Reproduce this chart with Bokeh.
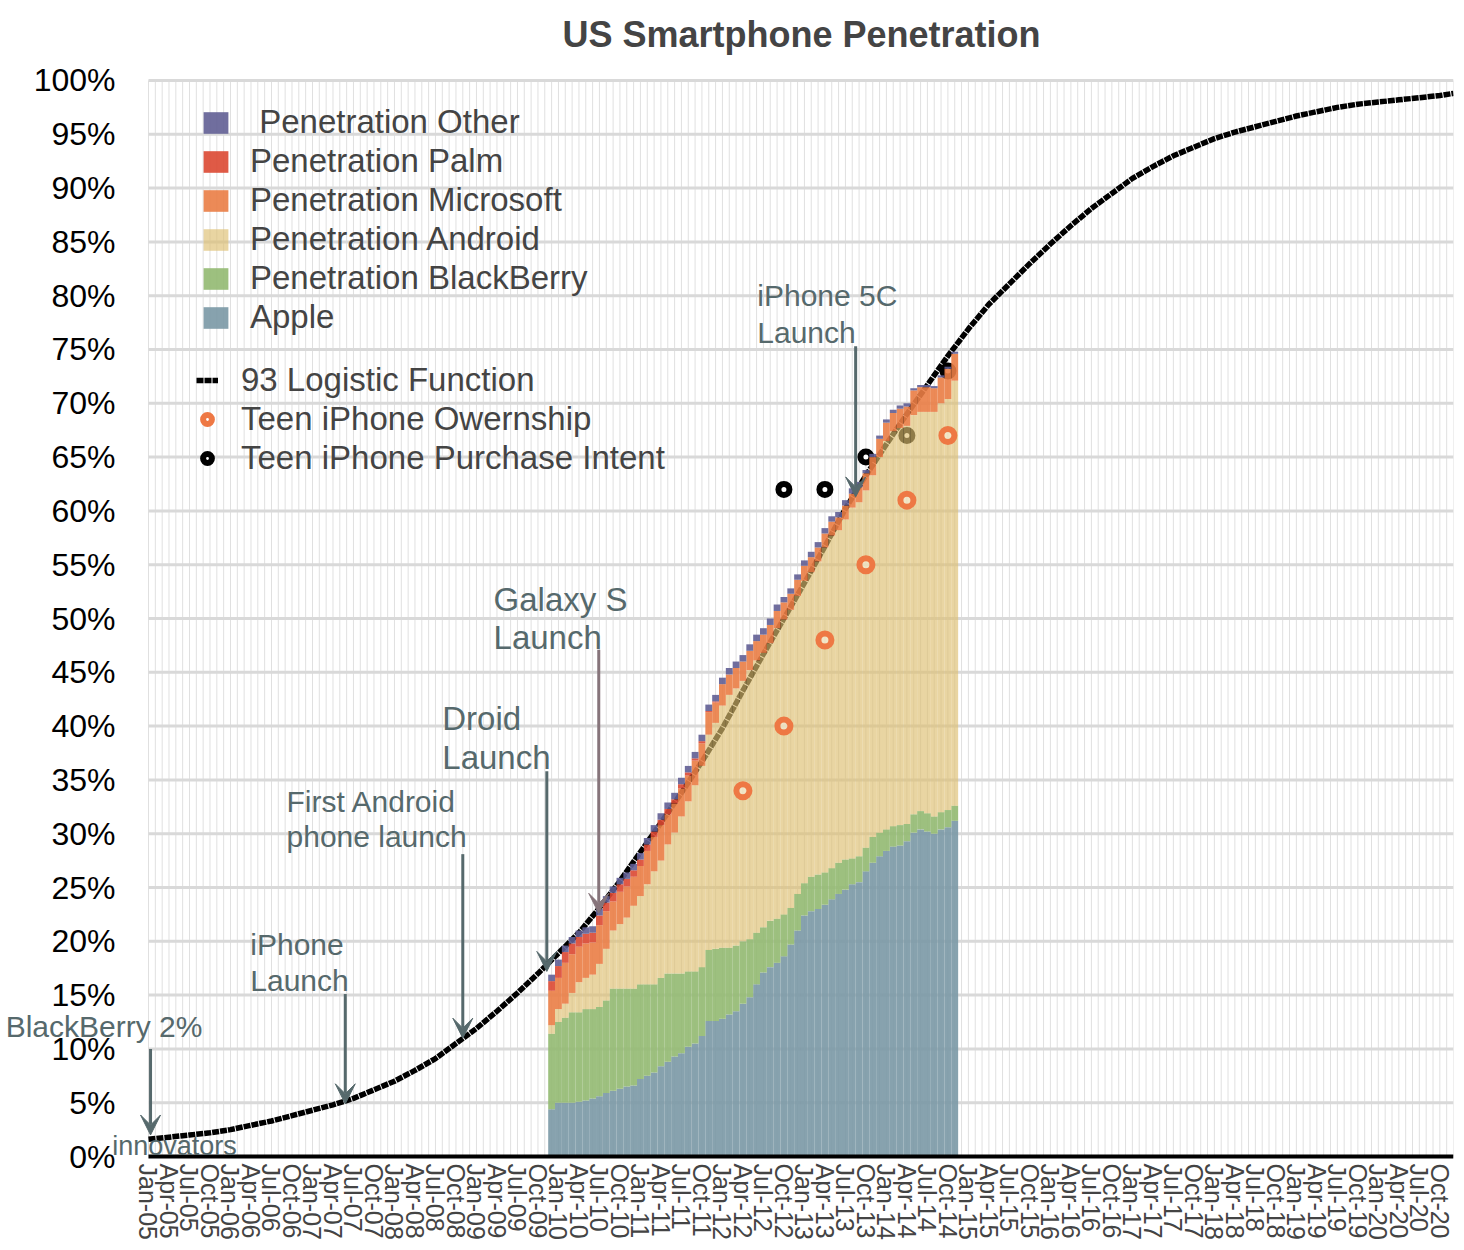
from math import pi
from bokeh.plotting import figure
from bokeh.models import Range1d, FixedTicker, Legend, LegendItem, Label, Arrow, VeeHead, ColumnDataSource
from bokeh.core.properties import value
from bokeh.embed import file_html
from bokeh.resources import INLINE

# month index 0 = Jan-05
quarters = ["Jan", "Apr", "Jul", "Oct"]
years = ["05", "06", "07", "08", "09", "10", "11", "12",
         "13", "14", "15", "16", "17", "18", "19", "20"]
tick_labels = [q + "-" + y for y in years for q in quarters]
tick_months = list(range(0, 3 * len(tick_labels), 3))
pct_ticks = list(range(0, 101, 5))
pct_labels = [str(v) + "%" for v in pct_ticks]

# stacked bars, Dec-09 .. Nov-14 (percent of US mobile subscribers)
bar_months = list(range(59, 119))
apple = [4.4, 5.0, 5.0, 5.0, 5.1, 5.2, 5.4, 5.6, 5.9, 6.1,
         6.3, 6.5, 6.6, 7.2, 7.5, 7.8, 8.4, 8.8, 9.3, 9.6,
         10.2, 10.5, 11.2, 12.6, 12.6, 12.8, 13.2, 13.5, 14.2, 14.8,
         16.0, 17.1, 17.6, 18.0, 18.6, 19.7, 21.0, 22.4, 22.8, 23.0,
         23.4, 23.9, 24.4, 24.8, 25.3, 25.5, 26.5, 27.3, 27.9, 28.4,
         28.8, 28.9, 29.3, 30.1, 30.4, 30.2, 30.0, 30.4, 30.6, 31.2]
blackberry = [7.0, 7.5, 7.9, 8.4, 8.3, 8.5, 8.3, 8.3, 8.6, 9.5,
              9.3, 9.1, 9.0, 8.8, 8.5, 8.2, 8.2, 8.2, 7.7, 7.4,
              7.0, 6.7, 6.4, 6.6, 6.7, 6.6, 6.2, 6.1, 5.8, 5.4,
              4.8, 4.2, 4.3, 4.1, 3.9, 3.4, 3.4, 3.0, 3.2, 3.2,
              3.0, 2.9, 2.9, 2.8, 2.4, 2.4, 2.2, 2.4, 2.2, 2.0,
              1.9, 1.9, 1.6, 1.7, 1.7, 1.7, 1.6, 1.6, 1.6, 1.4]
android = [0.8, 1.2, 1.3, 1.8, 2.8, 2.9, 3.2, 4.0, 4.8, 5.4,
           6.0, 6.6, 7.7, 8.2, 9.3, 10.5, 10.9, 12.0, 13.1, 14.6,
           15.8, 17.3, 18.7, 20.0, 21.0, 22.5, 23.5, 23.9, 24.2, 25.0,
           25.3, 25.5, 25.8, 27.0, 27.4, 27.7, 27.7, 28.1, 28.3, 29.1,
           30.2, 30.9, 30.9, 31.6, 32.6, 32.9, 33.2, 33.6, 34.9, 36.1,
           36.7, 36.9, 37.0, 37.1, 37.1, 37.3, 37.6, 38.0, 38.2, 39.5]
microsoft = [3.2, 2.9, 3.8, 3.6, 3.3, 3.2, 3.0, 3.6, 3.5, 2.7,
             3.0, 2.9, 2.7, 2.8, 3.1, 3.2, 3.3, 2.8, 2.7, 2.6,
             2.4, 2.3, 2.1, 2.1, 1.9, 2.0, 1.9, 1.9, 1.8, 1.8,
             1.8, 1.7, 1.7, 1.6, 1.6, 1.5, 1.5, 1.4, 1.4, 1.3,
             1.3, 1.3, 1.2, 1.3, 1.3, 1.4, 1.6, 1.7, 1.7, 1.7,
             1.7, 1.8, 1.8, 2.3, 2.3, 2.3, 2.2, 2.4, 2.8, 2.5]
palm = [0.9, 1.1, 1.0, 1.0, 0.9, 0.9, 0.9, 0.9, 0.8, 0.8,
        0.7, 0.7, 0.6, 0.6, 0.6, 0.5, 0.5, 0.5, 0.4, 0.4,
        0.3, 0.2, 0.2, 0.1, 0.1, 0.0, 0.0, 0.0, 0.0, 0.0,
        0.0, 0.0, 0.0, 0.0, 0.0, 0.0, 0.0, 0.0, 0.0, 0.0,
        0.0, 0.0, 0.0, 0.0, 0.0, 0.0, 0.0, 0.0, 0.0, 0.0,
        0.0, 0.0, 0.0, 0.0, 0.0, 0.0, 0.0, 0.0, 0.0, 0.0]
other = [0.6, 0.6, 0.6, 0.6, 0.6, 0.6, 0.6, 0.6, 0.6, 0.6,
         0.6, 0.6, 0.6, 0.6, 0.6, 0.6, 0.6, 0.6, 0.6, 0.6,
         0.6, 0.6, 0.6, 0.6, 0.6, 0.6, 0.6, 0.6, 0.6, 0.6,
         0.6, 0.6, 0.6, 0.6, 0.5, 0.5, 0.5, 0.5, 0.5, 0.5,
         0.5, 0.5, 0.5, 0.5, 0.5, 0.5, 0.3, 0.3, 0.3, 0.3,
         0.3, 0.3, 0.3, 0.2, 0.2, 0.2, 0.2, 0.2, 0.2, 0.2]

logistic_month = list(range(0, 190, 3)) + [191]
logistic_pct = [1.6, 1.8, 2.0, 2.2, 2.5, 2.9, 3.3, 3.8, 4.3, 4.8,
                5.4, 6.2, 7.0, 8.0, 9.1, 10.5, 11.9, 13.5, 15.2, 17.0,
                18.9, 20.8, 23.1, 25.6, 28.3, 31.0, 33.8, 36.7, 39.8, 43.3,
                46.7, 50.0, 53.3, 56.7, 60.2, 63.3, 66.2, 69.0, 71.7, 74.4,
                76.9, 79.2, 81.1, 83.0, 84.8, 86.5, 88.1, 89.5, 90.9, 92.0,
                93.0, 93.8, 94.6, 95.2, 95.7, 96.2, 96.7, 97.1, 97.5, 97.8,
                98.0, 98.2, 98.4, 98.6, 98.8]

own_month = [87, 93, 99, 105, 111, 117]
own_pct = [34, 40, 48, 55, 61, 67]
intent_month = [93, 99, 105, 111, 117]
intent_pct = [62, 62, 65, 67, 73]

FONT = "Liberation Sans"
ANN = "#56696c"
X_END = 191

# frame is a little larger than the data area so the notes and % labels are not clipped
p = figure(width=1456, height=1248, x_range=Range1d(-21.66, X_END), y_range=Range1d(-1.3, 101.3),
           output_backend="svg", toolbar_location=None, title="US Smartphone Penetration",
           y_axis_location=None,
           min_border_left=0, min_border_right=3, min_border_top=63, min_border_bottom=78)
p.outline_line_color = None
p.title.align = "left"
p.title.offset = 562
p.title.text_font = FONT
p.title.text_font_size = "36px"
p.title.text_font_style = "bold"
p.title.standoff = 23
p.xgrid.grid_line_color = None
p.ygrid.grid_line_color = None

# gridlines only over the data area
months_all = list(range(0, X_END + 1))
p.segment(x0=months_all, y0=[0] * len(months_all), x1=months_all, y1=[100] * len(months_all),
          line_color="#e0e0e0", line_width=1)
p.segment(x0=[0] * len(pct_ticks), y0=pct_ticks, x1=[X_END] * len(pct_ticks), y1=pct_ticks,
          line_color="#d9d9d9", line_width=3)
p.text(x=[-4.83] * len(pct_ticks), y=pct_ticks, text=pct_labels, text_align="right",
       text_baseline="middle", text_font=value(FONT), text_font_size="32px", text_color="black")

p.xaxis.ticker = FixedTicker(ticks=tick_months)
p.xaxis.major_label_overrides = dict(zip(tick_months, tick_labels))
p.xaxis.major_label_orientation = -pi / 2
p.xaxis.major_label_text_font = FONT
p.xaxis.major_label_text_font_size = "25px"
p.xaxis.major_label_standoff = -7
p.xaxis.axis_line_color = None
p.xaxis.major_tick_line_color = None
p.xaxis.minor_tick_line_color = None
p.xaxis.major_tick_out = 0
p.xaxis.major_tick_in = 0

line_r = p.line(logistic_month, logistic_pct, line_color="black", line_width=5.5, line_dash="7 1")
intent_r = p.scatter(intent_month, intent_pct, marker="circle", size=11, line_color="black",
                     line_width=6, fill_color="white")

src = ColumnDataSource(dict(month=bar_months, apple=apple, blackberry=blackberry, android=android,
                            microsoft=microsoft, palm=palm, other=other))
stack = ["apple", "blackberry", "android", "microsoft", "palm", "other"]
bars = p.vbar_stack(stack, x="month", width=1.0, source=src, line_color=None,
                    fill_color=["#7a98a5", "#92b971", "#ddbe70", "#ea7d45", "#db4832", "#605e94"],
                    fill_alpha=[0.9, 0.9, 0.65, 0.9, 0.9, 0.9])

own_r = p.scatter(own_month, own_pct, marker="circle", size=13, line_color="#ee7844",
                  line_width=6, fill_color="white", fill_alpha=0.4)

# x axis baseline
p.segment(x0=[0], y0=[0], x1=[X_END], y1=[0], line_color="black", line_width=4)

names = ["Apple", "Penetration BlackBerry", "Penetration Android", "Penetration Microsoft",
         "Penetration Palm", " Penetration Other"]
leg1 = Legend(items=[LegendItem(label=n, renderers=[r]) for n, r in reversed(list(zip(names, bars)))],
              location=(200, 834), padding=0, margin=0, spacing=1, glyph_width=31, glyph_height=27,
              label_height=22, label_standoff=19, label_text_font=FONT, label_text_font_size="33px",
              background_fill_alpha=0, border_line_color=None)
leg2 = Legend(items=[LegendItem(label="93 Logistic Function", renderers=[line_r]),
                     LegendItem(label="Teen iPhone Owernship", renderers=[own_r]),
                     LegendItem(label="Teen iPhone Purchase Intent", renderers=[intent_r])],
              location=(196, 693), padding=0, margin=0, spacing=1, glyph_width=22, glyph_height=22,
              label_height=22, label_standoff=23, label_text_font=FONT, label_text_font_size="33px",
              background_fill_alpha=0, border_line_color=None)
p.add_layout(leg1)
p.add_layout(leg2)

# annotations: (text, x, y, size)
notes = [("BlackBerry 2%", -20.9, 12.1, "30px"),
         ("innovators", -5.3, 1.0, "27px"),
         ("iPhone", 14.9, 19.7, "30px"), ("Launch", 14.9, 16.4, "30px"),
         ("First Android", 20.2, 33.0, "30px"), ("phone launch", 20.2, 29.7, "30px"),
         ("Droid", 43.0, 40.7, "33px"), ("Launch", 43.0, 37.1, "33px"),
         ("Galaxy S", 50.5, 51.8, "33px"), ("Launch", 50.5, 48.2, "33px"),
         ("iPhone 5C", 89.1, 80.0, "30px"), ("Launch", 89.1, 76.6, "30px")]
for t, x, y, s in notes:
    p.add_layout(Label(x=x, y=y, text=t, text_font=FONT, text_font_size=s, text_color=ANN,
                       text_align="left", text_baseline="middle"))

arrows = [(0.3, 10.0, 2.0, ANN), (28.8, 15.1, 4.9, ANN), (46.0, 28.1, 11.0, ANN),
          (58.3, 35.8, 17.2, ANN), (65.9, 47.1, 22.6, "#86747a"), (103.5, 75.3, 61.3, ANN)]
for x, y0, y1, c in arrows:
    p.add_layout(Arrow(end=VeeHead(size=20, fill_color=c, line_color=c), x_start=x, y_start=y0,
                       x_end=x, y_end=y1, line_color=c, line_width=3))

open("out.html", "w").write(file_html(p, INLINE))
